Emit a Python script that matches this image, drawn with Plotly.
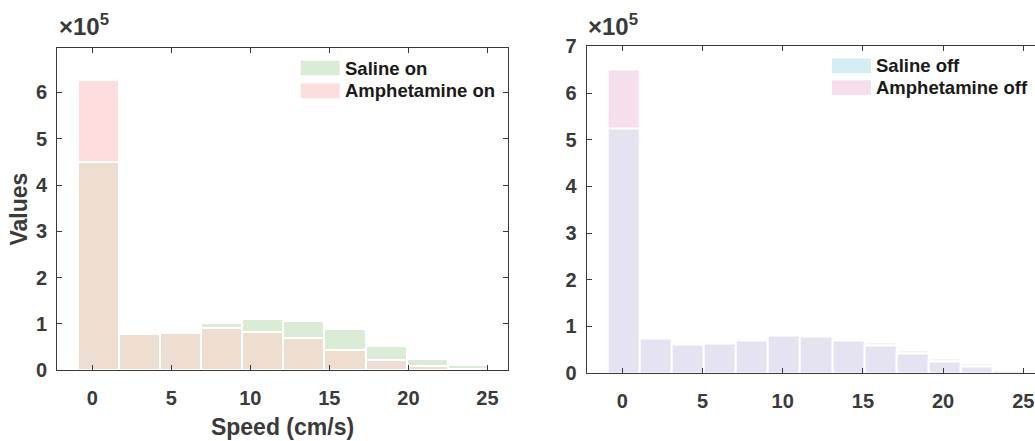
import numpy as np
import plotly.graph_objects as go

# Speed histogram bin edges (cm/s)
edges_on = [-0.91, 1.69, 4.29, 6.89, 9.49, 12.09, 14.69, 17.29, 19.89, 22.49, 25.09]
edges_off = [-0.91, 1.09, 3.09, 5.09, 7.09, 9.09, 11.09, 13.09, 15.09,
             17.09, 19.09, 21.09, 23.09, 25.09]

# Counts per speed bin
saline_on = [449000, 77500, 81000, 101000, 110000, 107000, 88000, 52000, 24000, 10000]
amph_on = [626000, 77000, 80500, 92000, 83000, 69000, 44000, 22000, 8000, 3000]
saline_off = [525000, 73500, 60500, 62500, 75000, 80000, 81000, 75000, 64500,
              48000, 31000, 19700, 8800]
amph_off = [650000, 74000, 61000, 63000, 70500, 80700, 77300, 70000, 58300,
            41400, 24400, 13600, 4700]

x_ticks = [0, 5, 10, 15, 20, 25]
y_ticks_on = [0, 1, 2, 3, 4, 5, 6]
y_ticks_off = [0, 1, 2, 3, 4, 5, 6, 7]

# Translucent fills as they appear on white, plus the overlap tint
C_SAL_ON, C_AMP_ON, C_MIX_ON = "#DAEBD6", "#FEDDDE", "#EEDED1"
C_SAL_OFF, C_AMP_OFF, C_MIX_OFF = "#D4EDF0", "#F6DFEC", "#E5E2F1"

FONT = "Liberation Sans, Arial, Helvetica, sans-serif"
AXC = "#3a3a3a"
W, H = 1035, 441


def bins(edges):
    e = np.asarray(edges, dtype=float)
    return (e[:-1] + e[1:]) / 2, np.diff(e)


def add_hist(fig, edges, sal, amp, c_sal, c_amp, c_mix, xa, ya):
    centers, widths = bins(edges)
    overlap = np.minimum(np.asarray(sal), np.asarray(amp))
    for vals, col in ((sal, c_sal), (amp, c_amp), (overlap, c_mix)):
        fig.add_trace(go.Bar(
            x=centers, y=vals, width=widths, xaxis=xa, yaxis=ya,
            marker=dict(color=col, line=dict(color="white", width=2)),
            showlegend=False, hoverinfo="x+y"))


fig = go.Figure()
add_hist(fig, edges_on, saline_on, amph_on, C_SAL_ON, C_AMP_ON, C_MIX_ON, "x", "y")
add_hist(fig, edges_off, saline_off, amph_off, C_SAL_OFF, C_AMP_OFF, C_MIX_OFF, "x2", "y2")

tickfont = dict(family=FONT, size=20, color=AXC, weight="bold")
common_x = dict(tickvals=x_ticks, ticktext=[str(v) for v in x_ticks], ticks="inside",
                ticklen=5, tickcolor=AXC, showline=True, linecolor=AXC, linewidth=1,
                showgrid=False, zeroline=False, tickfont=tickfont, ticklabelstandoff=10)
common_y = dict(ticks="inside", ticklen=5, tickcolor=AXC, showline=True, linecolor=AXC,
                linewidth=1, showgrid=False, zeroline=False, tickfont=tickfont,
                ticklabelstandoff=5)

fig.update_layout(
    width=W, height=H,
    margin=dict(l=0, r=0, t=0, b=0),
    paper_bgcolor="white", plot_bgcolor="white",
    barmode="overlay", bargap=0,
    xaxis=dict(domain=[57 / W, 508 / W], range=[-2.23, 26.3], mirror="ticks",
               anchor="y",
               title=dict(text="Speed (cm/s)", standoff=10,
                          font=dict(family=FONT, size=23, color=AXC, weight="bold")),
               **common_x),
    yaxis=dict(domain=[1 - 378 / H, 1 - 39 / H], range=[0, 696000], mirror="ticks",
               anchor="x",
               tickvals=[v * 1e5 for v in y_ticks_on], ticktext=[str(v) for v in y_ticks_on],
               title=dict(text="Values", standoff=1,
                          font=dict(family=FONT, size=23, color=AXC, weight="bold")),
               **common_y),
    xaxis2=dict(domain=[586.7 / W, 1.0], range=[-2.22, 25.73], mirror="ticks",
                anchor="y2", **common_x),
    yaxis2=dict(domain=[1 - 381 / H, 1 - 37.3 / H], range=[0, 700000], mirror=False,
                anchor="x2",
                tickvals=[v * 1e5 for v in y_ticks_off], ticktext=[str(v) for v in y_ticks_off],
                **common_y),
)

# Exponent labels above each y axis
for x0 in (57, 586):
    fig.add_annotation(
        xref="paper", yref="paper", x=x0 / W, y=1 - 33 / H, xanchor="left", yanchor="bottom",
        text="×10<sup>5</sup>", showarrow=False,
        font=dict(family=FONT, size=24, color=AXC, weight="bold"))

# Legends drawn as swatch + label pairs
legend_rows = [
    (300.7, 52.3, C_SAL_ON, "Saline on"),
    (300.7, 76.3, C_AMP_ON, "Amphetamine on"),
    (832.0, 50.0, C_SAL_OFF, "Saline off"),
    (832.0, 73.0, C_AMP_OFF, "Amphetamine off"),
]
for x0, y0, col, label in legend_rows:
    fig.add_shape(type="rect", xref="paper", yref="paper",
                  x0=x0 / W, x1=(x0 + 39) / W, y0=1 - y0 / H, y1=1 - (y0 + 15.4) / H,
                  fillcolor=col, line=dict(width=0))
    fig.add_annotation(xref="paper", yref="paper", x=(x0 + 42) / W, y=1 - (y0 + 7.7) / H,
                       xanchor="left", yanchor="middle", text=label, showarrow=False,
                       font=dict(family=FONT, size=18.5, color="#1a1a1a", weight="bold"))

fig.write_html("out.html")
